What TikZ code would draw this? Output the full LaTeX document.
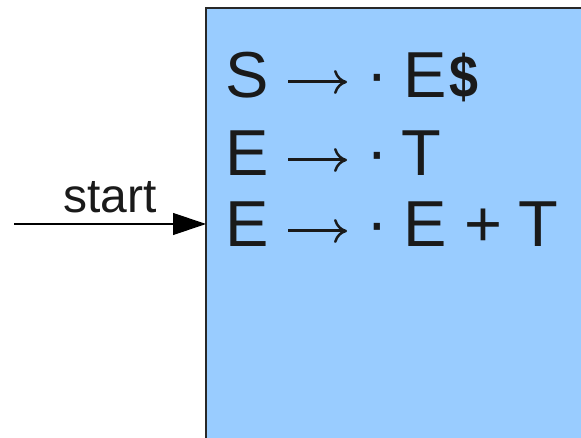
\documentclass[tikz,border=0pt]{standalone}
\usepackage{fontspec}
\setmainfont{Liberation Sans}
\usetikzlibrary{arrows.meta}
\definecolor{boxblue}{RGB}{153,204,255}
\definecolor{edge}{RGB}{40,40,40}
\definecolor{ink}{RGB}{26,26,26}
\tikzset{
  big/.style={inner sep=0pt, anchor=base west, text=ink, font=\fontsize{65bp}{78bp}\selectfont},
  lbl/.style={inner sep=0pt, anchor=base west, text=ink, font=\fontsize{48bp}{58bp}\selectfont},
  prod/.style={draw=ink, line width=3bp, -{Computer Modern Rightarrow[length=13bp,width=24bp,line width=2.5bp]}},
}
\begin{document}
\begin{tikzpicture}[x=1bp,y=-1bp]
\useasboundingbox (0,0) rectangle (581,438);
\begin{scope}
\clip (0,0) rectangle (581,438);
\draw[edge, line width=1.5bp, fill=boxblue] (206,8) rectangle (600,460);
\end{scope}
\coordinate (box) at (206,224);
\coordinate (tail) at (14,224);
\draw[line width=1.2bp, -{Triangle[length=33bp,width=22bp]}] (tail) -- (box);
\node[lbl] (start) at (63,213) {start};
% row 1
\node[big] (s1) at (225,98) {S};
\coordinate (a1s) at (288,82); \coordinate (a1e) at (347,82);
\draw[prod] (a1s) -- (a1e);
\node[big] (d1) at (366,96) {·};
\node[big] (e1) at (403,98) {E};
\node[big] (x1) at (449,98) {\scalebox{0.8}[0.92]{\textbf{\$}}};
% row 2
\node[big] (s2) at (225,176) {E};
\coordinate (a2s) at (288,160); \coordinate (a2e) at (347,160);
\draw[prod] (a2s) -- (a2e);
\node[big] (d2) at (366,174) {·};
\node[big] (e2) at (401,176) {T};
% row 3
\node[big] (s3) at (225,247) {E};
\coordinate (a3s) at (288,231); \coordinate (a3e) at (347,231);
\draw[prod] (a3s) -- (a3e);
\node[big] (d3) at (366,245) {·};
\node[big] (e3) at (403,247) {E};
\node[big] (p3) at (464,247) {+};
\node[big] (t3) at (518,247) {T};
\end{tikzpicture}
\end{document}
